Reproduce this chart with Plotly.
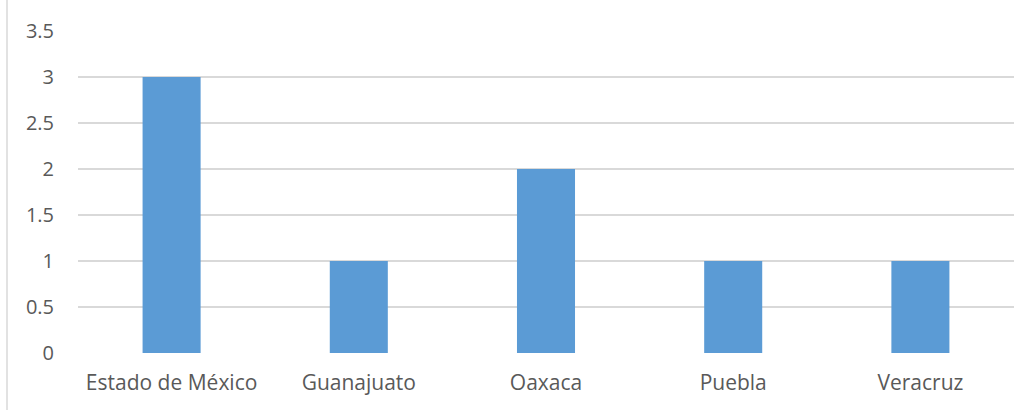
import plotly.graph_objects as go

categories = ["Estado de México", "Guanajuato", "Oaxaca", "Puebla", "Veracruz"]
values = [3, 1, 2, 1, 1]
y_ticks = [0, 0.5, 1, 1.5, 2, 2.5, 3, 3.5]
y_tick_labels = ["0", "0.5", "1", "1.5", "2", "2.5", "3", "3.5"]

W, H = 1033, 410
L, R, T, B = 78, 19, 31, 57
pw, ph = W - L - R, H - T - B

fig = go.Figure(go.Bar(x=categories, y=values, marker=dict(color="#5B9BD5", line=dict(width=0))))

fig.update_layout(
    width=W, height=H,
    margin=dict(l=L, r=R, t=T, b=B, pad=0),
    plot_bgcolor="white", paper_bgcolor="white",
    bargap=0.69,
    showlegend=False,
    font=dict(family="Open Sans", size=20, color="#595959"),
)
fig.update_xaxes(showgrid=False, showline=False, ticks="", ticklabelstandoff=15,
                 tickfont=dict(size=21, color="#595959"))
fig.update_yaxes(range=[0, 3.5], tickvals=y_ticks, ticktext=y_tick_labels,
                 showgrid=True, gridcolor="#d9d9d9", gridwidth=1.5, zeroline=False,
                 showline=False, ticks="", ticklabelstandoff=23,
                 tickfont=dict(size=20, color="#595959"))

# chart frame left edge
fig.add_shape(type="line", xref="paper", yref="paper",
              x0=(7 - L) / pw, x1=(7 - L) / pw, y0=-(B) / ph, y1=1 + T / ph,
              line=dict(color="#d9d9d9", width=1.5))

fig.write_html("out.html")
